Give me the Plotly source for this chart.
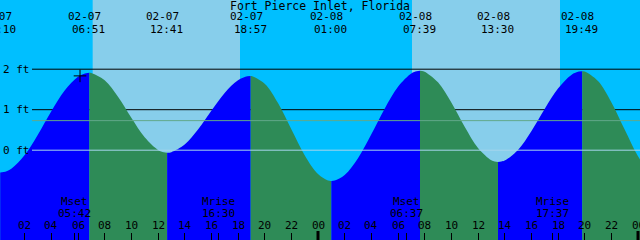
import plotly.graph_objects as go

# ---------------- data ----------------
title_text = "Fort Pierce Inlet, Florida"

# tide heights (ft), hours counted from 02-07 00:00
curve_hours = [0, 0.4167, 1, 2, 3, 4, 5, 6, 6.6, 7, 8, 9, 10, 11, 12, 12.433, 13, 14, 15, 16,
               17, 18, 18.7, 19, 20, 21, 22, 23, 24, 24.75, 25.25, 26, 27, 28, 29, 30, 31,
               31.4, 31.9, 32, 33, 34, 35, 36, 37, 37.25, 37.75, 38, 39, 40, 41, 42, 43,
               43.567, 44, 45, 46, 47, 48, 49]
curve_heights = [-0.54, -0.541, -0.457, -0.121, 0.389, 0.962, 1.473, 1.813, 1.901, 1.907,
                 1.727, 1.320, 0.802, 0.318, 0.006, -0.051, -0.048, 0.139, 0.509, 0.972,
                 1.413, 1.725, 1.823, 1.830, 1.642, 1.163, 0.518, -0.122, -0.589, -0.749,
                 -0.750, -0.611, -0.197, 0.392, 1.026, 1.567, 1.896, 1.950, 1.950, 1.940,
                 1.677, 1.177, 0.580, 0.056, -0.250, -0.280, -0.281, -0.256, 0.007, 0.470,
                 1.019, 1.523, 1.859, 1.941, 1.944, 1.709, 1.187, 0.511, -0.149, -0.626]

# high / low tides
ext_dates = ["02-07", "02-07", "02-07", "02-07", "02-08", "02-08", "02-08", "02-08"]
ext_times = ["00:10", "06:51", "12:41", "18:57", "01:00", "07:39", "13:30", "19:49"]
ext_heights = [-0.55, 1.91, -0.06, 1.83, -0.76, 1.96, -0.29, 1.95]

# moon events
moon_labels = ["Mset", "Mrise", "Mset", "Mrise"]
moon_dates = ["02-07", "02-07", "02-08", "02-08"]
moon_times = ["05:42", "16:30", "06:37", "17:37"]

# daylight
sun_dates = ["02-07", "02-08"]
sunrise_times = ["07:06", "07:03"]
sunset_times = ["18:09", "18:09"]

# current time marker
now_date, now_time, now_height = "02-07", "06:09", 1.835

# reference levels
grid_levels = [2, 1]
level_labels = ["2 ft", "1 ft", "0 ft"]
level_values = [2, 1, 0]
zero_level = 0
msl_level = 0.73

hour_ticks = list(range(0, 49, 2))
midnights = [24, 48]

# ---------------- helpers ----------------
DAY0 = 7


def to_hours(date, hm):
    day = int(date.split("-")[1]) - DAY0
    h, m = hm.split(":")
    return day * 24 + int(h) + int(m) / 60.0


ext_hours = [to_hours(d, t) for d, t in zip(ext_dates, ext_times)]
moon_hours = [to_hours(d, t) for d, t in zip(moon_dates, moon_times)]

W, H = 640, 240
PX_PER_FT = 40.5
ZERO_PIX = 150.2
y_range = [-(H - ZERO_PIX) / PX_PER_FT, ZERO_PIX / PX_PER_FT]
x_range = [0.15, 48.15]
FLOOR = y_range[0]


def py(pix):
    return 1 - pix / H


FONT = dict(family="DejaVu Sans Mono", size=11, color="black")
BLUE = "#0000FF"
GREEN = "#2E8B57"
NIGHT = "#00BFFF"
DAY = "#87CEEB"

fig = go.Figure()

# segments between extremes: blue while rising, green while falling
bounds = [curve_hours[0]] + ext_hours + [curve_hours[-1]]
bound_h = [curve_heights[0]] + ext_heights + [curve_heights[-1]]
for i in range(len(bounds) - 1):
    a, b = bounds[i], bounds[i + 1]
    xs = [a]
    ys = [bound_h[i]]
    for t, v in zip(curve_hours, curve_heights):
        if a < t < b:
            xs.append(t)
            ys.append(v)
    xs.append(b)
    ys.append(bound_h[i + 1])
    rising = ys[-1] > ys[0]
    color = BLUE if rising else GREEN
    fig.add_trace(go.Scatter(x=xs, y=[FLOOR] * len(xs), mode="lines",
                             line=dict(width=0), hoverinfo="skip", showlegend=False))
    fig.add_trace(go.Scatter(x=xs, y=ys, mode="lines", fill="tonexty", fillcolor=color,
                             line=dict(width=0, shape="spline", smoothing=1.0),
                             hoverinfo="skip", showlegend=False))

# now marker
fig.add_trace(go.Scatter(x=[to_hours(now_date, now_time)], y=[now_height], mode="markers",
                         marker=dict(symbol="cross-thin", size=9,
                                     line=dict(width=1, color="black")),
                         hoverinfo="skip", showlegend=False))

shapes = []
for d, sr, ss in zip(sun_dates, sunrise_times, sunset_times):
    shapes.append(dict(type="rect", xref="x", yref="paper", x0=to_hours(d, sr),
                       x1=to_hours(d, ss), y0=0, y1=1, fillcolor=DAY,
                       line=dict(width=0), layer="below"))
for lv in grid_levels:
    shapes.append(dict(type="line", xref="paper", yref="y", x0=32 / W, x1=1,
                       y0=lv, y1=lv, line=dict(color="black", width=1), layer="below"))
shapes.append(dict(type="line", xref="paper", yref="y", x0=32 / W, x1=1,
                   y0=msl_level, y1=msl_level, line=dict(color="#62A88A", width=1),
                   layer="above"))
shapes.append(dict(type="line", xref="paper", yref="y", x0=32 / W, x1=1,
                   y0=zero_level, y1=zero_level, line=dict(color="#A6D6EC", width=1),
                   layer="above"))
for m in midnights:
    shapes.append(dict(type="line", xref="x", yref="paper", x0=m, x1=m,
                       y0=py(231), y1=0, line=dict(color="black", width=3),
                       layer="above"))

ann = []
ann.append(dict(text=title_text, xref="paper", yref="paper", x=0.5, y=py(5.5),
                showarrow=False, font=dict(FONT, size=11.5), yanchor="middle",
                borderpad=0))
for t, d, tm in zip(ext_hours, ext_dates, ext_times):
    ann.append(dict(text=d, xref="x", yref="paper", x=t, y=py(16.5), xshift=-4.5,
                    showarrow=False, font=FONT, yanchor="middle", borderpad=0))
    ann.append(dict(text=tm, xref="x", yref="paper", x=t, y=py(29.5), xshift=-0.5,
                    showarrow=False, font=FONT, yanchor="middle", borderpad=0))
for t, lab, tm in zip(moon_hours, moon_labels, moon_times):
    ann.append(dict(text=lab, xref="x", yref="paper", x=t, y=py(201.5),
                    showarrow=False, font=FONT, yanchor="middle", borderpad=0))
    ann.append(dict(text=tm, xref="x", yref="paper", x=t, y=py(213.5),
                    showarrow=False, font=FONT, yanchor="middle", borderpad=0))
for h in hour_ticks:
    ann.append(dict(text="%02d" % (h % 24), xref="x", yref="paper", x=h, y=py(225.5),
                    showarrow=False, font=FONT, yanchor="middle", borderpad=0))
for lab, v in zip(level_labels, level_values):
    ann.append(dict(text=lab, xref="paper", yref="y", x=1.5 / W, y=v, xanchor="left",
                    showarrow=False, font=FONT, yanchor="middle", borderpad=0))

fig.update_layout(
    width=W, height=H, margin=dict(l=0, r=0, t=0, b=0),
    paper_bgcolor=NIGHT, plot_bgcolor=NIGHT,
    shapes=shapes, annotations=ann, showlegend=False,
    xaxis=dict(range=x_range, showgrid=False, zeroline=False, showline=False,
               tickmode="array", tickvals=hour_ticks + moon_hours, ticks="inside",
               ticklen=7, tickwidth=1, tickcolor="black", showticklabels=False,
               fixedrange=True),
    yaxis=dict(range=y_range, visible=False, fixedrange=True),
)

fig.write_html("out.html", config={"displayModeBar": False})
